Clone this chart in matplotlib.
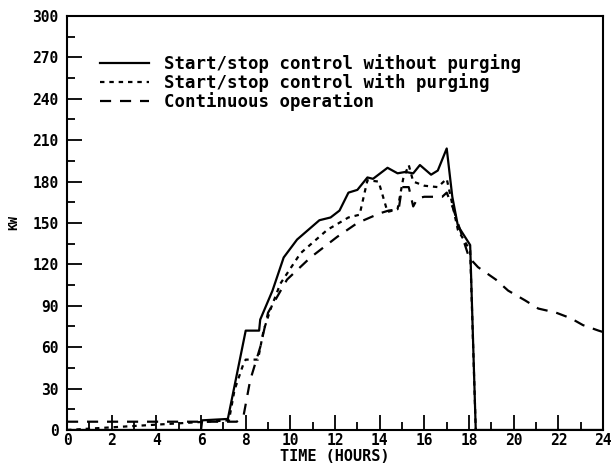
import matplotlib
matplotlib.use("Agg")
import matplotlib.pyplot as plt
from matplotlib.ticker import MultipleLocator

# ---- data (hours, kW) ----
solid_t = [0, 6.0, 6.05, 7.2, 8.0, 8.6, 8.65, 9.2, 9.7, 10.3, 11.3, 11.8, 12.2, 12.6, 13.0,
           13.45, 13.7, 14.35, 14.8, 15.15, 15.5, 15.8, 16.3, 16.6, 17.0, 17.25, 17.5,
           18.05, 18.3, 24]
solid_kw = [0, 0, 7, 8, 72, 72, 80, 101, 125, 138, 152, 154, 159, 172, 174,
            183, 182, 190, 186, 187, 186, 192, 185, 188, 204, 169, 148,
            134, 0, 0]

purge_t = [0, 7.25, 7.5, 7.9, 8.0, 8.55, 8.8, 9.1, 9.55, 10.45, 11.65, 12.6, 13.1, 13.45,
           13.95, 14.35, 14.8, 15.05, 15.3, 15.5, 16.0, 16.6, 17.0, 17.3, 17.5, 18.05, 18.3]
purge_kw = [0, 7, 29, 48, 51, 51, 72, 87, 106, 128, 145, 154, 156, 181,
            180, 158, 160, 182, 192, 180, 177, 176, 182, 160, 145, 130, 0]

cont_t = [0, 7.6, 7.9, 8.2, 8.65, 9.0, 9.85, 10.9, 12.1, 13.0, 14.0, 14.4, 14.85, 15.0,
          15.3, 15.5, 15.7, 16.0, 16.8, 17.0, 17.3, 17.6, 18.0, 18.4, 19.2, 19.75,
          20.5, 21.1, 21.9, 22.55, 23.1, 23.8, 24.0]
cont_kw = [6, 6, 10, 36, 60, 85, 109, 125, 140, 150, 157, 159, 160, 176,
           176, 162, 168, 169, 169, 172, 160, 145, 125, 118, 109, 101,
           94, 88, 85, 81, 76, 72, 71]

labels = ["Start/stop control without purging",
          "Start/stop control with purging",
          "Continuous operation"]
x_ticks = list(range(0, 25, 2))
y_ticks = list(range(0, 301, 30))

font = ["DejaVu Sans Mono"]
fig = plt.figure(figsize=(6.11, 4.65), dpi=100)
ax = fig.add_axes([0.1097, 0.0753, 0.8773, 0.8903])

ax.plot(solid_t, solid_kw, color="black", lw=1.6, ls="-", label=labels[0])
ax.plot(purge_t, purge_kw, color="black", lw=1.6, ls=(0, (2, 2.2)), label=labels[1])
ax.plot(cont_t, cont_kw, color="black", lw=1.6, ls=(0, (5, 4)), label=labels[2])

ax.set_xlim(0, 24)
ax.set_ylim(0, 300)
ax.set_xticks(x_ticks)
ax.set_yticks(y_ticks)
ax.xaxis.set_minor_locator(MultipleLocator(1))
ax.yaxis.set_minor_locator(MultipleLocator(15))
ax.tick_params(which="major", direction="in", length=11, width=1.3, top=False, right=False)
ax.tick_params(which="minor", direction="in", length=6, width=1.3, top=False, right=False)
for lab in ax.get_xticklabels() + ax.get_yticklabels():
    lab.set_family(font)
    lab.set_fontweight("bold")
    lab.set_fontsize(10.5)
ax.tick_params(axis="x", pad=2)
ax.tick_params(axis="y", pad=6)
for s in ax.spines.values():
    s.set_linewidth(1.5)

ax.set_xlabel("TIME (HOURS)", family=font, fontweight="bold", fontsize=11, labelpad=1)
ax.set_ylabel("KW", family=font, fontweight="bold", fontsize=9, labelpad=9)

leg = ax.legend(loc="upper left", bbox_to_anchor=(0.062, 0.908), frameon=False,
                prop={"family": font, "weight": "bold", "size": 12.5},
                handlelength=2.8, handletextpad=0.85, labelspacing=0.0,
                borderaxespad=0, borderpad=0)

fig.savefig("out.png", dpi=100)
